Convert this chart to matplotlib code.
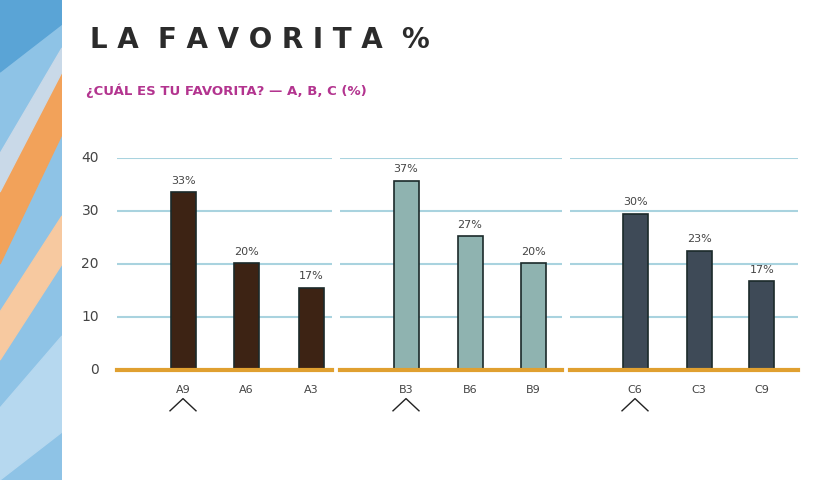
import matplotlib
matplotlib.use("Agg")
import matplotlib.pyplot as plt
from matplotlib.patches import Rectangle, Polygon
import numpy as np

groups = [["A9", "A6", "A3"], ["B3", "B6", "B9"], ["C6", "C3", "C9"]]
values = [[33, 20, 17], [37, 27, 20], [30, 23, 17]]
heights = [[33.5, 20.2, 15.5], [35.7, 25.2, 20.2], [29.5, 22.5, 16.8]]
colors = ["#3d2314", "#8fb3b0", "#3e4a57"]
yticks = [0, 10, 20, 30, 40]

W, H = 830, 480
fig = plt.figure(figsize=(W/100, H/100), dpi=100)
fig.patch.set_facecolor("white")

strip = fig.add_axes([0, 0, 62/W, 1])
strip.set_xlim(0, 1); strip.set_ylim(0, 1); strip.axis("off")
strip.add_patch(Rectangle((0, 0), 1, 1, color="#8ec3e6"))
strip.add_patch(Polygon([(0, 0.85), (1, 0.95), (1, 1), (0, 1)], color="#5aa4d6"))
strip.add_patch(Polygon([(0, 0.45), (1, 0.72), (1, 0.85), (0, 0.6)], color="#f2a25a"))
strip.add_patch(Polygon([(0, 0.6), (1, 0.85), (1, 0.9), (0, 0.68)], color="#c9d9e8"))
strip.add_patch(Polygon([(0, 0.25), (1, 0.45), (1, 0.55), (0, 0.35)], color="#f7c9a0"))
strip.add_patch(Polygon([(0, 0.0), (1, 0.1), (1, 0.3), (0, 0.15)], color="#b6d8ef"))

fig.text(90/W, 1-40/H, "L A  F A V O R I T A  %", fontsize=20, fontweight="bold",
         color="#2b2b2b", va="center", ha="left")
fig.text(86/W, 1-91/H, "¿CUÁL ES TU FAVORITA? — A, B, C (%)", fontsize=9.5, fontweight="bold",
         color="#b3348f", va="center", ha="left")

y0, y40 = 370, 158
panels = [(117, 332), (340, 562), (570, 798)]
centers = [[183, 246, 311], [406, 470, 533], [635, 699, 762]]
ax_bottom = 1 - y0/H
ax_h = (y0 - y40)/H
for gi, (x0, x1) in enumerate(panels):
    ax = fig.add_axes([x0/W, ax_bottom, (x1-x0)/W, ax_h])
    ax.set_xlim(x0, x1); ax.set_ylim(0, 40)
    for s in ax.spines.values(): s.set_visible(False)
    ax.set_xticks([]); ax.set_yticks([])
    for t in yticks[1:]:
        ax.axhline(t, color="#a9d3df", lw=1.5, zorder=0)
    ax.axhline(0, color="#e0a030", lw=3, zorder=3, clip_on=False)
    ax.bar(centers[gi], heights[gi], width=25, color=colors[gi], edgecolor="#1b2a2a",
           lw=1.2, zorder=2)
    for c, h, v, lab in zip(centers[gi], heights[gi], values[gi], groups[gi]):
        ax.text(c, h + 1.2, f"{v}%", ha="center", va="bottom", fontsize=8, color="#444")
        ax.text(c, -2.8, lab, ha="center", va="top", fontsize=8, color="#444", clip_on=False)
    c = centers[gi][0]
    ax.plot([c-13, c, c+13], [-7.7, -5.4, -7.7], color="#222", lw=1, clip_on=False)
    if gi == 0:
        for t in yticks:
            ax.text(x0-18, t, str(t), ha="right", va="center", fontsize=10, color="#444")

fig.savefig("out.png", dpi=100)
